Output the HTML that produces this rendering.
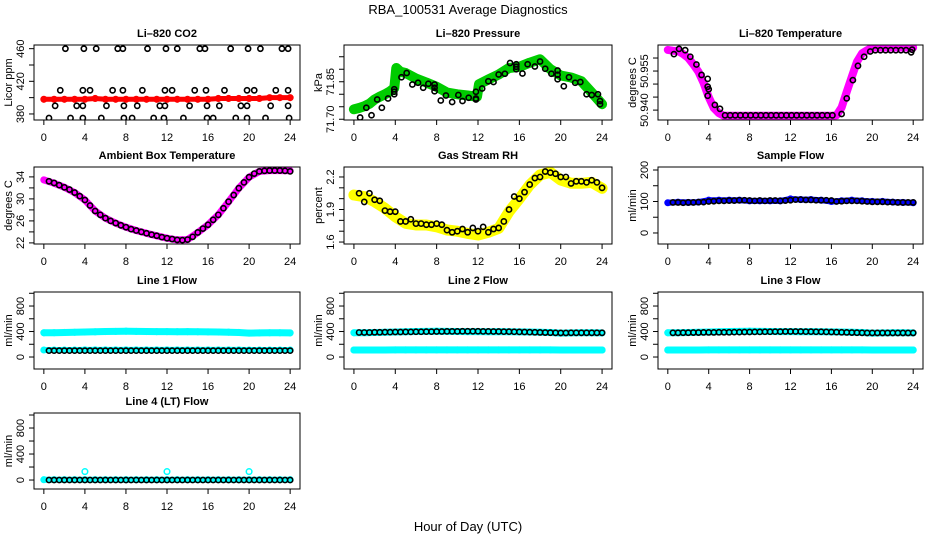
<!DOCTYPE html>
<html><head><meta charset="utf-8">
<style>
html,body{margin:0;padding:0;background:#fff;}
svg{display:block;font-family:"Liberation Sans",Arial,sans-serif;}
</style></head>
<body>
<svg id="chart" width="936" height="540" viewBox="0 0 936 540" xmlns="http://www.w3.org/2000/svg">
<rect width="936" height="540" fill="#fff"/>
<text x="468" y="14" font-size="13" text-anchor="middle">RBA_100531  Average Diagnostics</text>
<text x="468" y="531" font-size="13" text-anchor="middle">Hour of Day (UTC)</text>
</svg>
<script>
// ---- data ----
const hourTicks = [0,4,8,12,16,20,24];
const hourly = [0,1,2,3,4,5,6,7,8,9,10,11,12,13,14,15,16,17,18,19,20,21,22,23,24];
const halfHours = [0.5,1,1.5,2,2.5,3,3.5,4,4.5,5,5.5,6,6.5,7,7.5,8,8.5,9,9.5,10,10.5,11,11.5,12,12.5,13,13.5,14,14.5,15,15.5,16,16.5,17,17.5,18,18.5,19,19.5,20,20.5,21,21.5,22,22.5,23,23.5,24];

// CO2
const co2Red = [398,398,398,398,398,399,398,398,398,398,398,398,398,398,398,398,398,399,399,399,399,399,400,400,400];
const co2BlackHours = [2.1,3.9,5.1,7.2,7.7,10.1,11.9,13.0,15.2,15.7,18.2,19.9,21.1,23.2,23.8, 1.6,3.8,4.5,6.7,7.7,9.6,11.8,12.5,14.7,15.8,17.6,19.8,20.5,22.6,23.8, 1.1,3.2,3.8,6.1,7.8,9.1,11.3,11.8,14.2,15.9,17.1,19.2,19.8,22.1,23.8, 0.5,2.6,3.8,5.6,7.8,8.6,10.7,11.7,13.6,15.9,16.5,18.7,19.8,21.6,23.9];
const co2BlackValues = [460,460,460,460,460,460,460,460,460,460,460,460,460,460,460, 409,409,409,409,409,409,409,409,409,409,409,409,409,409,409, 390,390,390,390,390,390,390,390,390,390,390,390,390,390,390, 375,375,375,375,375,375,375,375,375,375,375,375,375,375,375];

// Pressure
const presHours = [0,0.5,1,1.5,2,2.5,3,3.5,3.9,4.1,4.5,5,6,7,8,9,10,11,11.9,12.1,13,14,15,16,17,18,19,20,21,22,23,24];
const presGreen = [71.74,71.745,71.752,71.762,71.779,71.79,71.80,71.812,71.825,71.905,71.89,71.885,71.863,71.847,71.83,71.807,71.80,71.795,71.79,71.84,71.859,71.879,71.905,71.91,71.926,71.94,71.90,71.875,71.867,71.852,71.807,71.76];
const presBlackHours = [0.6,1.2,1.7,2.25,2.7,3.3,3.9,3.9,3.9,4.6,5.1,5.65,6.2,6.7,7.2,7.8,7.8,7.8,8.4,8.9,9.5,10.1,10.5,11.1,11.8,11.8,11.8,12.4,13,13.5,14,14.6,15.1,15.7,15.7,15.7,16.3,16.8,17.5,18,18.5,19.1,19.7,19.7,19.7,20.3,20.8,21.4,21.9,22.5,23,23.6,23.8,23.8];
const presBlackValues = [71.707,71.746,71.716,71.779,71.746,71.783,71.80,71.81,71.82,71.868,71.885,71.839,71.846,71.826,71.842,71.839,71.826,71.812,71.775,71.795,71.769,71.797,71.773,71.786,71.779,71.783,71.81,71.823,71.852,71.849,71.879,71.882,71.925,71.92,71.91,71.90,71.883,71.92,71.911,71.931,71.902,71.882,71.878,71.86,71.895,71.832,71.868,71.846,71.849,71.80,71.797,71.80,71.773,71.76];

// Li-820 Temperature
const tempHours = [0,0.5,1,1.5,2,2.5,3,3.5,4,4.5,5,5.5,6,8,10,12,14,16,16.5,17,17.5,18,18.5,19,19.5,20,22,24];
const tempMagenta = [50.9631,50.9628,50.9627,50.9615,50.960,50.9575,50.9547,50.9504,50.945,50.9408,50.9388,50.9378,50.9378,50.9378,50.9378,50.9378,50.9378,50.9378,50.9380,50.941,50.947,50.9528,50.9586,50.9618,50.963,50.964,50.964,50.964];
const tempBlackHours = [0.6,1.1,1.7,2.2,2.8,3.3,3.9,3.9,3.9,4.0,4.6,5.1,5.6,6.1,6.6,7.1,7.6,8.1,8.6,9.1,9.6,10.1,10.6,11.1,11.6,12.1,12.6,13.1,13.6,14.1,14.6,15.1,15.6,16.1,17.0,17.5,18.1,18.6,19.2,19.8,20.3,20.8,21.3,21.8,22.3,22.8,23.3,23.8,23.9];
const tempBlackValues = [50.9615,50.9635,50.963,50.9605,50.9575,50.9535,50.952,50.949,50.9455,50.948,50.942,50.9405,50.938,50.938,50.938,50.938,50.938,50.938,50.938,50.938,50.938,50.938,50.938,50.938,50.938,50.938,50.938,50.938,50.938,50.938,50.938,50.938,50.938,50.938,50.9385,50.9445,50.9515,50.957,50.9605,50.9625,50.963,50.963,50.963,50.963,50.963,50.963,50.963,50.9622,50.9632];

// Ambient Box Temperature
const ambMagenta = [33.45,32.85,32.1,31.15,29.8,27.8,26.5,25.6,24.85,24.25,23.75,23.3,22.85,22.55,22.6,23.9,25.3,27.1,29.5,31.95,33.95,35.0,35.15,35.15,35.1];
const ambBlack = [33.2,32.9,32.5,32.1,31.7,31.15,30.5,29.8,28.8,27.8,27.1,26.5,26.0,25.6,25.2,24.85,24.5,24.25,24.0,23.75,23.5,23.3,23.05,22.85,22.7,22.55,22.5,22.6,23.1,23.9,24.6,25.3,26.2,27.1,28.3,29.5,30.7,31.95,33.0,33.95,34.6,35.0,35.1,35.15,35.15,35.15,35.1,35.0];

// Gas Stream RH
const rhYellow = [2.034,2.018,1.972,1.911,1.834,1.773,1.757,1.757,1.741,1.711,1.70,1.68,1.665,1.69,1.726,1.88,2.0,2.126,2.218,2.243,2.172,2.142,2.142,2.15,2.096];
const rhBlack = [2.05,1.97,2.05,1.99,1.98,1.89,1.88,1.88,1.79,1.79,1.81,1.77,1.77,1.76,1.76,1.77,1.76,1.71,1.69,1.70,1.72,1.69,1.73,1.70,1.74,1.69,1.72,1.73,1.79,1.90,2.02,2.0,2.06,2.13,2.19,2.20,2.25,2.24,2.23,2.20,2.20,2.14,2.16,2.16,2.15,2.17,2.15,2.10];

// Sample Flow
const sfBlue = [96,98,97,98,104,104,104,104,102,102,102,102,108,106,106,104,100,102,104,102,100,100,98,97,96];
const sfBlack = [97,97,96,97,97,98,98,100,101,102,102,103,103,104,104,103,102,103,102,103,103,102,103,104,106,106,105,105,104,104,104,103,100,101,102,102,102,101,100,99,99,99,98,98,97,97,97,97];

// Line flows
const l1CyanHigh = [380,382,385,388,392,395,400,402,405,402,400,398,398,397,398,396,394,392,390,385,375,378,380,380,378];
const l1CyanLow = [110,110,110,110,112,112,112,112,112,112,112,112,112,112,112,112,112,112,112,112,110,110,110,110,110];
const l1Black = [100,100,100,100,100,100,100,100,100,100,100,100,100,100,100,100,100,100,100,100,100,100,100,100,100,100,100,100,100,100,100,100,100,100,100,100,100,100,100,100,100,100,100,100,100,100,100,100];
const l2CyanHigh = [380,382,385,388,392,395,400,402,405,402,400,398,398,397,398,396,394,392,390,385,375,378,380,380,378];
const l2CyanLow = [110,110,110,110,112,112,112,112,112,112,112,112,112,112,112,112,112,112,112,112,110,110,110,110,110];
const l2Black = [385,385,385,388,388,390,390,392,392,394,394,396,396,398,398,400,400,402,402,402,404,404,404,404,402,402,400,400,398,398,396,394,392,390,388,386,384,382,380,378,378,380,380,380,380,380,380,380];
const l3CyanHigh = [380,382,385,388,392,395,400,402,405,402,400,398,398,397,398,396,394,392,390,385,375,378,380,380,378];
const l3CyanLow = [110,110,110,110,112,112,112,112,112,112,112,112,112,112,112,112,112,112,112,112,110,110,110,110,110];
const l3Black = [380,380,382,382,384,384,386,386,386,388,388,388,390,390,392,392,394,394,396,396,398,398,400,400,400,400,398,398,396,396,394,392,390,388,386,384,382,380,378,378,378,378,378,378,378,378,378,378];
const l4CyanHours = [0,1,2,3,4,5,6,7,8,9,10,11,12,13,14,15,16,17,18,19,20,21,22,23,24];
const l4Cyan = [5,5,5,5,5,5,5,5,5,5,5,5,5,5,5,5,5,5,5,5,5,5,5,5,5];
const l4CyanOutHours = [4,12,20];
const l4CyanOut = [130,130,130];
const l4Black = [0,0,0,0,0,0,0,0,0,0,0,0,0,0,0,0,0,0,0,0,0,0,0,0,0,0,0,0,0,0,0,0,0,0,0,0,0,0,0,0,0,0,0,0,0,0,0,0];

// ---- drawing ----
const NS = "http://www.w3.org/2000/svg";
const svg = document.getElementById('chart');
const colL = [34,344,658], colR = [300,612,923];
const rowT = [45,167,292,413], rowB = [120,244,369,489];

function mk(tag, attrs, parent){
  const e = document.createElementNS(NS, tag);
  for (const k in attrs) e.setAttribute(k, attrs[k]);
  (parent||svg).appendChild(e);
  return e;
}

function panel(p){
  const L = colL[p.col], R = colR[p.col], T = rowT[p.row], B = rowB[p.row];
  const g = mk('g', {});
  
  
  const xs = h => L + (h + 0.96) / 25.92 * (R - L);
  const ys = v => B - (v - p.ymin) / (p.ymax - p.ymin) * (B - T);
  // clip
  const cid = 'clip-' + p.name;
  const cp = mk('clipPath', {id: cid}, g);
  mk('rect', {x: L, y: T, width: R - L, height: B - T}, cp);
  const plot = mk('g', {'clip-path': 'url(#' + cid + ')'}, g);
  // colored series
  p.colored.forEach(s => {
    const pts = s.x.map((h, i) => xs(h).toFixed(1) + ',' + ys(s.y[i]).toFixed(1)).join(' ');
    if (s.band) {
      const pl = mk('polyline', {points: pts, fill: 'none', stroke: s.color, 'stroke-width': s.band, 'stroke-linejoin': 'round', 'stroke-linecap': 'round'}, plot);
      
      
    }
    s.x.forEach((h, i) => {
      const c = mk('circle', {cx: xs(h), cy: ys(s.y[i]), r: 2.8, fill: 'none', stroke: s.color, 'stroke-width': 1.5}, plot);
      
      
    });
  });
  // black points
  p.black.x.forEach((h, i) => {
    const c = mk('circle', {cx: xs(h), cy: ys(p.black.y[i]), r: 2.6, fill: 'none', stroke: '#000', 'stroke-width': 1.6}, plot);
    
    
  });
  // box
  mk('rect', {x: L, y: T, width: R - L, height: B - T, fill: 'none', stroke: '#000', 'stroke-width': 1}, g);
  // x axis
  mk('line', {x1: xs(0), x2: xs(24), y1: B, y2: B, stroke: '#000'}, g);
  hourTicks.forEach(h => {
    mk('line', {x1: xs(h), x2: xs(h), y1: B, y2: B + 5, stroke: '#000'}, g);
    const t = mk('text', {x: xs(h), y: B + 21, 'font-size': 11, 'text-anchor': 'middle'}, g);
    t.textContent = h;
    
    
  });
  // y axis
  mk('line', {x1: L, x2: L, y1: ys(p.ticks[0]), y2: ys(p.ticks[p.ticks.length - 1]), stroke: '#000'}, g);
  p.ticks.forEach(v => mk('line', {x1: L - 5, x2: L, y1: ys(v), y2: ys(v), stroke: '#000'}, g));
  p.labels.forEach(v => {
    const y = ys(v), x = L - 10;
    const t = mk('text', {x: x, y: y, 'font-size': 11, 'text-anchor': 'middle', transform: 'rotate(-90 ' + x + ' ' + y + ')'}, g);
    t.textContent = p.fmt ? v.toFixed(p.fmt) : v;
    
    
  });
  const yx = L - 22, yy = (T + B) / 2;
  const yt = mk('text', {x: yx, y: yy, 'font-size': 11, 'text-anchor': 'middle', transform: 'rotate(-90 ' + yx + ' ' + yy + ')'}, g);
  yt.textContent = p.ylab;
  
  
  const tt = mk('text', {x: (L + R) / 2, y: T - 8, 'font-size': 11, 'font-weight': 'bold', 'text-anchor': 'middle'}, g);
  tt.textContent = p.title;
  
  
}

const flowTicks = [0,200,400,600,800,1000];
panel({name:'co2', col:0, row:0, title:'Li\u2013820 CO2', ylab:'Licor ppm', ymin:372.6, ymax:464.5, ticks:[380,400,420,440,460], labels:[380,420,460],
  colored:[{x:hourly, y:co2Red, color:'#ff0000', band:5}], black:{x:co2BlackHours, y:co2BlackValues}});
panel({name:'pressure', col:1, row:0, title:'Li\u2013820 Pressure', ylab:'kPa', ymin:71.697, ymax:71.997, ticks:[71.70,71.75,71.80,71.85,71.90,71.95], labels:[71.70,71.85], fmt:2,
  colored:[{x:presHours, y:presGreen, color:'#00cc00', band:10}], black:{x:presBlackHours, y:presBlackValues}});
panel({name:'li820-temp', col:2, row:0, title:'Li\u2013820 Temperature', ylab:'degrees C', ymin:50.9362, ymax:50.965, ticks:[50.940,50.945,50.950,50.955,50.960], labels:[50.940,50.955], fmt:3,
  colored:[{x:tempHours, y:tempMagenta, color:'#ff00ff', band:8}], black:{x:tempBlackHours, y:tempBlackValues}});
panel({name:'ambient-temp', col:0, row:1, title:'Ambient Box Temperature', ylab:'degrees C', ymin:21.8, ymax:35.8, ticks:[22,24,26,28,30,32,34], labels:[22,26,30,34],
  colored:[{x:hourly, y:ambMagenta, color:'#ff00ff', band:7}], black:{x:halfHours, y:ambBlack}});
panel({name:'gas-rh', col:1, row:1, title:'Gas Stream RH', ylab:'percent', ymin:1.582, ymax:2.292, ticks:[1.6,1.7,1.8,1.9,2.0,2.1,2.2], labels:[1.6,1.9,2.2], fmt:1,
  colored:[{x:hourly, y:rhYellow, color:'#ffff00', band:11}], black:{x:halfHours, y:rhBlack}});
panel({name:'sample-flow', col:2, row:1, title:'Sample Flow', ylab:'ml/min', ymin:-35, ymax:209.5, ticks:[0,50,100,150,200], labels:[0,100,200],
  colored:[{x:hourly, y:sfBlue, color:'#0000ff', band:6}], black:{x:halfHours, y:sfBlack}});
panel({name:'line1-flow', col:0, row:2, title:'Line 1 Flow', ylab:'ml/min', ymin:-188, ymax:1020, ticks:flowTicks, labels:[0,400,800],
  colored:[{x:hourly, y:l1CyanHigh, color:'#00ffff', band:7},{x:hourly, y:l1CyanLow, color:'#00ffff', band:6}], black:{x:halfHours, y:l1Black}});
panel({name:'line2-flow', col:1, row:2, title:'Line 2 Flow', ylab:'ml/min', ymin:-188, ymax:1020, ticks:flowTicks, labels:[0,400,800],
  colored:[{x:hourly, y:l2CyanHigh, color:'#00ffff', band:7},{x:hourly, y:l2CyanLow, color:'#00ffff', band:7}], black:{x:halfHours, y:l2Black}});
panel({name:'line3-flow', col:2, row:2, title:'Line 3 Flow', ylab:'ml/min', ymin:-188, ymax:1020, ticks:flowTicks, labels:[0,400,800],
  colored:[{x:hourly, y:l3CyanHigh, color:'#00ffff', band:7},{x:hourly, y:l3CyanLow, color:'#00ffff', band:7}], black:{x:halfHours, y:l3Black}});
panel({name:'line4-flow', col:0, row:3, title:'Line 4 (LT) Flow', ylab:'ml/min', ymin:-138, ymax:1031, ticks:flowTicks, labels:[0,400,800],
  colored:[{x:l4CyanHours, y:l4Cyan, color:'#00ffff', band:6},{x:l4CyanOutHours, y:l4CyanOut, color:'#00ffff', band:0}], black:{x:halfHours, y:l4Black}});
</script>
</body></html>
